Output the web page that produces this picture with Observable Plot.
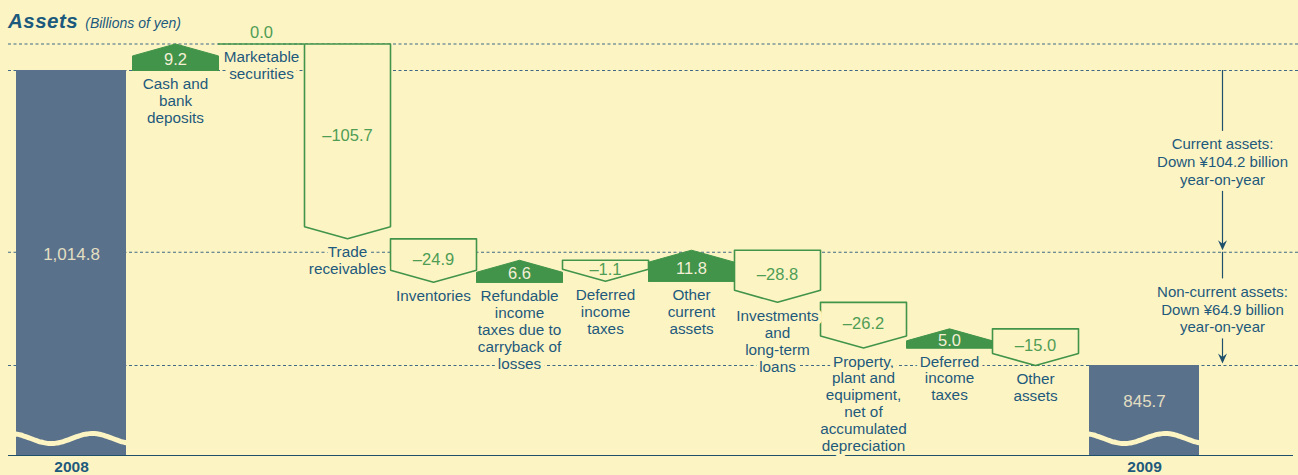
<!DOCTYPE html>
<html><head><meta charset="utf-8">
<script src="https://cdn.jsdelivr.net/npm/d3@7"></script>
<script src="https://cdn.jsdelivr.net/npm/@observablehq/plot@0.6"></script>
<style>
html,body{margin:0;padding:0;background:#fdf4c4;}
#wrap{position:relative;width:1298px;height:475px;overflow:hidden;font-family:"Liberation Sans",Arial,Helvetica,sans-serif;}
#title{position:absolute;left:8px;top:11px;color:#1b5a7d;white-space:nowrap;line-height:20px;}
#title b{font-size:20.5px;font-style:italic;font-weight:700;letter-spacing:0.5px;}
#title span{font-size:14px;font-style:italic;margin-left:7px;}
svg{display:block;}
</style></head><body>
<div id="wrap"><div id="chart"></div><div id="title"><b>Assets</b><span>(Billions of yen)</span></div></div>
<script>
// ---------- data ----------
const startLabel = "2008", endLabel = "2009";
const startTotal = 1014.8, endTotal = 845.7;
const categories = [
  "Cash and\nbank\ndeposits",
  "Marketable\nsecurities",
  "Trade\nreceivables",
  "Inventories",
  "Refundable\nincome\ntaxes due to\ncarryback of\nlosses",
  "Deferred\nincome\ntaxes",
  "Other\ncurrent\nassets",
  "Investments\nand\nlong-term\nloans",
  "Property,\nplant and\nequipment,\nnet of\naccumulated\ndepreciation",
  "Deferred\nincome\ntaxes",
  "Other\nassets"
];
const changes = [9.2, 0.0, -105.7, -24.9, 6.6, -1.1, 11.8, -28.8, -26.2, 5.0, -15.0];
const groupNotes = ["Current assets:\nDown ¥104.2 billion\nyear-on-year", "Non-current assets:\nDown ¥64.9 billion\nyear-on-year"];
const groupChanges = [-104.2, -64.9];

// ---------- layout / style ----------
const W = 1298, H = 475;
const topPx = 70, endPx = 365;             // where the two totals sit
const ppu = (endPx - topPx) / (startTotal - endTotal); // px per unit
const U = px => px / ppu;                  // px -> value units
const stepPx = 86, firstStepPx = 132;
const barW = 110 / stepPx, gapL = 6 / stepPx, gapR = 11 / stepPx;
const xDomain = [-firstStepPx / stepPx, (W - firstStepPx) / stepPx];
const yDomain = [startTotal - (H - topPx) / ppu, startTotal + topPx / ppu];

const BG = "#fdf4c4", BAR = "#5a718c", GREEN = "#41944a", GTEXT = "#4f9d55",
      BLUE = "#1e5a7c", DOT = "#3f6984", LINE = "#1e4f6b", LIGHT = "#f4efd6", BARTXT = "#e3dfc2";
const FONT = "Liberation Sans, Arial, Helvetica, sans-serif";

const tipU = U(12), minSpan = U(21), posExtra = U(10.5);
const n = changes.length;

// ---------- derived geometry ----------
let level = startTotal, cum = startTotal;
const steps = changes.map((v, i) => {
  cum += v;
  const base = {i, v, x0: i, x1: i + 1, xc: i + 0.5, label: categories[i]};
  let s;
  if (v > 0) { const top = level + v + posExtra; s = {type: "up", bottom: level, top, low: level}; level = top; }
  else if (v < 0) { const top = level; const tip = Math.min(cum, top - minSpan); s = {type: "down", top, tip, low: tip}; level = tip; }
  else { s = {type: "flat", top: level, bottom: level, low: level}; }
  return {...base, ...s};
});

const polys = [];
steps.forEach(s => {
  let pts = [];
  if (s.type === "up") {
    const sh = s.top - tipU;
    pts = [[s.x0, s.bottom], [s.x1, s.bottom], [s.x1, sh], [s.xc, s.top], [s.x0, sh], [s.x0, s.bottom], [s.x1, s.bottom]];
  } else if (s.type === "down") {
    const sh = s.tip + tipU;
    pts = [[s.x0, s.top], [s.x1, s.top], [s.x1, sh], [s.xc, s.tip], [s.x0, sh], [s.x0, s.top], [s.x1, s.top]];
  }
  pts.forEach(([x, y]) => polys.push({id: s.i, type: s.type, x, y}));
});

const fmt = v => (v < 0 ? "–" : "") + Math.abs(v).toFixed(1);
const valueLabels = steps.map(s => {
  if (s.type === "up") return {x: s.xc, y: s.bottom + 0.4 * (s.top - s.bottom), text: fmt(s.v), fill: LIGHT};
  if (s.type === "down") return {x: s.xc, y: s.top - 0.47 * (s.top - s.tip), text: fmt(s.v), fill: GTEXT};
  return {x: s.xc, y: s.top + U(11), text: fmt(s.v), fill: GTEXT};
});

const baseValue = startTotal - U(455 - topPx);
const waveValue = startTotal - U(438 - topPx);
const bars = [
  {label: startLabel, total: startTotal, x1: -gapL - barW, x2: -gapL},
  {label: endLabel, total: endTotal, x1: n + gapR, x2: n + gapR + barW}
];
const waveExt = 6 / stepPx, waveAmp = U(5);
const wavePts = [];
bars.forEach((b, k) => {
  const a = b.x1 - waveExt, w = (b.x2 + waveExt) - a;
  for (let j = 0; j <= 48; j++) {
    const t = j / 48;
    wavePts.push({id: k, x: a + t * w, y: waveValue + waveAmp * Math.cos(2 * Math.PI * (t - 0.67) * (w * stepPx) / 82)});
  }
});

const dottedLevels = [steps[0].top, startTotal, startTotal + groupChanges[0], endTotal];
const xLeft = xDomain[0] + 8 / stepPx, xRight = xDomain[1];

const noteX = bars[1].x2 + 23 / stepPx;
const gapHalf = U(30);
const notes = [];
let gl = startTotal;
groupChanges.forEach((g, k) => {
  const from = gl, to = gl + g, mid = (from + to) / 2;
  notes.push({k, from, to, mid, text: groupNotes[k]});
  gl = to;
});
const noteSegs = [];
notes.forEach(d => {
  noteSegs.push({y1: d.from, y2: d.mid + gapHalf});
  noteSegs.push({y1: d.mid - gapHalf, y2: d.to + U(6)});
});
const arrowHead = {draw(ctx) { ctx.moveTo(0, 0); ctx.lineTo(-4.5, -10); ctx.lineTo(0, -6.5); ctx.lineTo(4.5, -10); ctx.closePath(); }};

const chart = Plot.plot({
  width: W, height: H, margin: 0,
  x: {type: "linear", domain: xDomain, axis: null},
  y: {type: "linear", domain: yDomain, axis: null},
  style: {background: "transparent", fontFamily: FONT},
  marks: [
    Plot.ruleY(dottedLevels, {y: d => d, x1: () => xLeft, x2: () => xRight, stroke: DOT, strokeWidth: 1.1, strokeDasharray: "3,2.5"}),
    Plot.rect(bars, {x1: "x1", x2: "x2", y1: () => baseValue, y2: "total", fill: BAR}),
    Plot.line(wavePts, {x: "x", y: "y", z: "id", stroke: BG, strokeWidth: 5, curve: "natural"}),
    Plot.ruleY([baseValue], {x1: () => xLeft, x2: () => xDomain[1] - 5 / stepPx, stroke: LINE, strokeWidth: 1.2}),
    Plot.line(polys.filter(d => d.type === "down"), {x: "x", y: "y", z: "id", fill: BG, stroke: GREEN, strokeWidth: 1.6, strokeLinejoin: "miter"}),
    Plot.line(polys.filter(d => d.type === "up"), {x: "x", y: "y", z: "id", fill: GREEN, stroke: GREEN, strokeWidth: 1, strokeLinejoin: "miter"}),
    Plot.ruleY(steps.filter(s => s.type === "flat"), {y: "top", x1: "x0", x2: "x1", stroke: GREEN, strokeWidth: 1.6}),
    Plot.text(valueLabels, {x: "x", y: "y", text: "text", fill: d => d.fill, fontSize: 16.5, lineAnchor: "middle"}),
    Plot.text(steps, {x: "xc", y: d => d.low - U(6.4), text: "label", fill: BLUE, fontSize: 15.3, lineAnchor: "top", lineHeight: 1.11,
      stroke: BG, strokeWidth: 8, strokeLinejoin: "round"}),
    Plot.text(bars, {x: d => (d.x1 + d.x2) / 2, y: d => (d.total + waveValue) / 2, text: d => d.total.toLocaleString("en-US", {minimumFractionDigits: 1}), fill: BARTXT, fontSize: 17}),
    Plot.text(bars, {x: d => (d.x1 + d.x2) / 2, y: () => baseValue - U(12), text: "label", fill: BLUE, fontSize: 15.5, fontWeight: "bold"}),
    Plot.ruleX(noteSegs, {x: () => noteX, y1: "y1", y2: "y2", stroke: LINE, strokeWidth: 1.2}),
    Plot.dot(notes, {x: () => noteX, y: d => d.to + U(2), symbol: arrowHead, r: 4, fill: LINE, stroke: null}),
    Plot.text(notes, {x: () => noteX, y: "mid", text: "text", fill: BLUE, fontSize: 15, lineAnchor: "middle", lineHeight: 1.17})
  ]
});
document.getElementById("chart").appendChild(chart);
</script>
</body></html>
